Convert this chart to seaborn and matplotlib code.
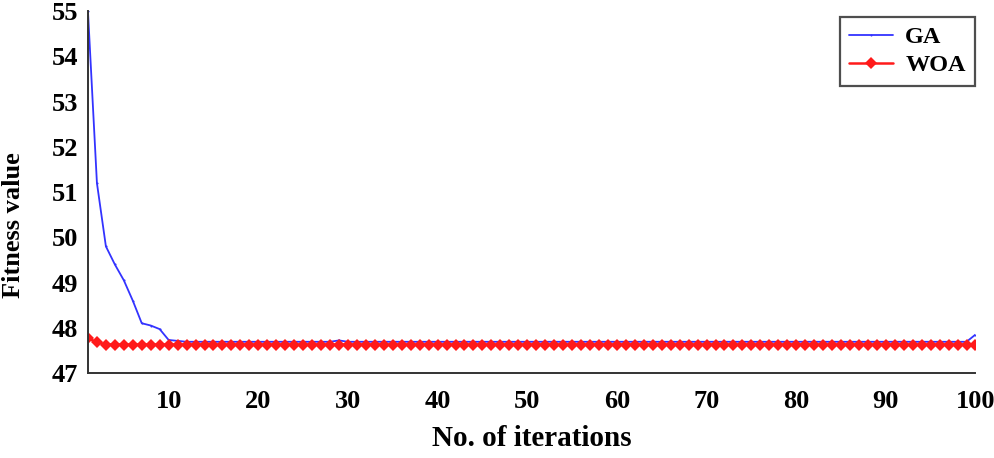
import numpy as np
import pandas as pd
import matplotlib
matplotlib.use("Agg")
import matplotlib.pyplot as plt
import seaborn as sns

iterations = list(range(1, 101))
ga_head = [55.0, 51.2, 49.8, 49.4, 49.05, 48.6, 48.1, 48.05, 47.97, 47.73, 47.71]
ga_tail = [47.69] * 89
ga_values = ga_head + ga_tail
ga_values[28] = 47.72
ga_values[99] = 47.85
woa_values = [47.77, 47.68] + [47.63] * 98

xticks = [10, 20, 30, 40, 50, 60, 70, 80, 90, 100]
yticks = [47, 48, 49, 50, 51, 52, 53, 54, 55]

sns.set_style("white")
plt.rcParams['font.family'] = ['Liberation Serif', 'DejaVu Serif']
plt.rcParams['font.weight'] = 'bold'
plt.rcParams['text.color'] = 'black'
plt.rcParams['xtick.color'] = 'black'
plt.rcParams['ytick.color'] = 'black'
plt.rcParams['axes.labelcolor'] = 'black'

df = pd.DataFrame({
    "iter": iterations * 2,
    "fit": ga_values + woa_values,
    "alg": ["GA"] * 100 + ["WOA"] * 100,
})

fig = plt.figure(figsize=(9.95, 4.58), dpi=100)
ax = fig.add_axes([0.0884, 0.1856, 0.892, 0.79])

sns.lineplot(data=df[df.alg == "GA"], x="iter", y="fit", ax=ax, color="#3333ff",
             linewidth=1.3, marker=".", markersize=3, markeredgewidth=0, label="GA")
sns.lineplot(data=df[df.alg == "WOA"], x="iter", y="fit", ax=ax, color="#ff1a1a",
             linewidth=1.8, marker="D", markersize=6, markeredgewidth=0, label="WOA")

ax.set_xlim(1, 100)
ax.set_ylim(47, 55)
ax.set_xticks(xticks)
ax.set_yticks(yticks)
ax.tick_params(direction="in", length=6, width=1.3, labelsize=19, color="#222222")
ax.tick_params(axis="x", pad=12)
ax.tick_params(axis="y", pad=7)
for lab in ax.get_xticklabels() + ax.get_yticklabels():
    lab.set_fontweight("bold")
for s in ["top", "right"]:
    ax.spines[s].set_visible(False)
for s in ["left", "bottom"]:
    ax.spines[s].set_color("#333333")
    ax.spines[s].set_linewidth(1.4)

ax.set_xlabel("No. of iterations", fontsize=21, fontweight="bold", labelpad=9)
ax.set_ylabel("Fitness value", fontsize=19, fontweight="bold")
ax.yaxis.set_label_coords(-0.071, 0.41)

leg = ax.legend(loc="upper right", bbox_to_anchor=(1.0, 0.985), borderaxespad=0,
                fontsize=17.5, frameon=True, fancybox=False, handlelength=1.8,
                borderpad=0.4, handletextpad=0.5, labelspacing=0.25)
leg.get_frame().set_edgecolor("#222222")
leg.get_frame().set_linewidth(1.6)
for t in leg.get_texts():
    t.set_fontweight("bold")

fig.savefig("out.png", dpi=100)
